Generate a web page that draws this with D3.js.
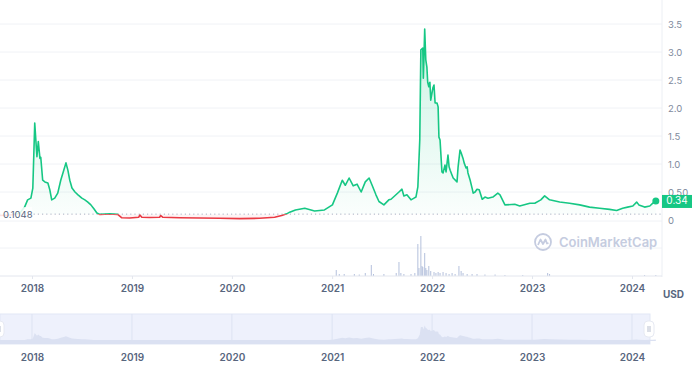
<!DOCTYPE html>
<html>
<head>
<meta charset="utf-8">
<script src="https://cdn.jsdelivr.net/npm/d3@7"></script>
<style>
  body { margin: 0; background: #fff; }
  svg { display: block; font-family: Inter, "Noto Sans", sans-serif; }
</style>
</head>
<body>
<svg id="chart" width="700" height="377"></svg>
<script>
// price history (USD)
const priceDates = ["2017-09-05","2017-10-12","2017-11-17","2017-12-05","2017-12-16","2017-12-28","2018-01-04","2018-01-11","2018-01-19","2018-01-24","2018-01-30","2018-02-02","2018-02-09","2018-02-17","2018-02-28","2018-03-07","2018-03-14","2018-03-25","2018-04-05","2018-04-16","2018-04-27","2018-05-05","2018-05-12","2018-05-19","2018-05-27","2018-06-07","2018-06-18","2018-07-02","2018-07-13","2018-07-24","2018-08-04","2018-08-15","2018-08-26","2018-09-06","2018-10-12","2018-11-10","2018-11-25","2018-12-24","2019-01-26","2019-01-30","2019-02-06","2019-03-07","2019-04-12","2019-04-16","2019-04-23","2019-06-24","2019-09-05","2019-11-17","2020-01-29","2020-04-11","2020-06-05","2020-07-01","2020-07-19","2020-07-30","2020-08-20","2020-09-23","2020-10-29","2020-12-04","2021-01-02","2021-01-20","2021-02-07","2021-02-18","2021-03-04","2021-03-19","2021-04-02","2021-04-17","2021-05-02","2021-05-16","2021-05-27","2021-06-10","2021-06-21","2021-07-09","2021-07-27","2021-08-04","2021-09-02","2021-09-13","2021-09-20","2021-10-01","2021-10-16","2021-10-27","2021-11-03","2021-11-10","2021-11-17","2021-11-21","2021-11-28","2021-11-30","2021-12-02","2021-12-05","2021-12-09","2021-12-13","2021-12-16","2021-12-20","2021-12-24","2021-12-27","2022-01-04","2022-01-08","2022-01-12","2022-01-19","2022-01-23","2022-01-26","2022-01-30","2022-02-06","2022-02-10","2022-02-17","2022-02-21","2022-02-28","2022-03-04","2022-03-08","2022-03-15","2022-03-19","2022-04-02","2022-04-06","2022-04-13","2022-04-17","2022-04-24","2022-04-28","2022-05-05","2022-05-09","2022-05-12","2022-05-20","2022-05-27","2022-05-31","2022-06-07","2022-06-14","2022-06-22","2022-07-03","2022-07-13","2022-07-24","2022-08-11","2022-08-29","2022-09-06","2022-09-24","2022-10-30","2022-11-17","2022-12-24","2023-01-11","2023-02-02","2023-02-16","2023-03-06","2023-04-12","2023-05-18","2023-06-24","2023-07-30","2023-09-05","2023-10-11","2023-11-06","2023-11-28","2023-12-16","2024-01-04","2024-01-18","2024-01-26","2024-02-16","2024-03-06","2024-03-17","2024-03-28"];
const priceValues = [0.08,0.09,0.12,0.23,0.36,0.39,0.57,1.73,1.13,1.40,1.10,1.12,0.71,0.68,0.66,0.54,0.36,0.39,0.48,0.71,0.89,1.02,0.89,0.71,0.57,0.50,0.45,0.39,0.36,0.32,0.27,0.20,0.125,0.10,0.11,0.10,0.04,0.035,0.05,0.09,0.05,0.045,0.05,0.08,0.05,0.04,0.035,0.03,0.025,0.03,0.05,0.08,0.11,0.14,0.18,0.21,0.16,0.18,0.27,0.48,0.71,0.62,0.75,0.61,0.64,0.50,0.68,0.75,0.62,0.45,0.33,0.27,0.36,0.37,0.50,0.55,0.43,0.45,0.36,0.39,0.41,0.59,1.43,3.04,3.07,2.53,2.86,3.41,2.86,2.73,2.46,2.38,2.46,2.14,2.36,2.41,2.09,2.09,2.02,1.48,1.43,0.86,0.84,0.98,0.86,1.16,0.95,0.89,0.80,0.75,0.68,0.95,1.25,1.20,1.10,1.02,0.93,0.95,0.84,0.71,0.57,0.48,0.50,0.55,0.54,0.37,0.41,0.39,0.41,0.48,0.45,0.27,0.28,0.25,0.30,0.30,0.36,0.43,0.36,0.32,0.30,0.27,0.23,0.21,0.19,0.17,0.21,0.23,0.25,0.32,0.27,0.23,0.25,0.30,0.34];

// trading volume (relative units)
const volumeDates = ["2021-01-16","2021-01-27","2021-02-14","2021-03-23","2021-04-10","2021-05-02","2021-05-24","2021-06-01","2021-07-09","2021-08-23","2021-09-02","2021-09-09","2021-09-20","2021-10-16","2021-10-30","2021-11-10","2021-11-14","2021-11-21","2021-11-25","2021-11-28","2021-12-05","2021-12-09","2021-12-13","2021-12-20","2021-12-27","2022-01-08","2022-01-15","2022-01-23","2022-01-30","2022-02-10","2022-02-21","2022-03-04","2022-03-15","2022-03-26","2022-04-09","2022-04-17","2022-04-24","2022-05-09","2022-05-27","2022-06-14","2022-07-13","2022-08-19","2022-09-24","2022-11-28","2023-02-27","2023-03-06","2024-02-16","2024-03-28"];
const volumeValues = [6,2,2,2,1.5,3,11,2,2,3,14,3,2,2,3,32,8,40,10,9,23,8,6,10,5,4,3,4,3,4,3,2,3,2,10,5,3,2,2,2,1.5,1.5,1,1,3,2,1,1];

const priceTicks = [0, 0.5, 1, 1.5, 2, 2.5, 3, 3.5];
const yearTicks = ["2018","2019","2020","2021","2022","2023","2024"];
const openPrice = 0.1048;
const lastPrice = 0.34;

const green = "#16c784", red = "#ea3943";
const parse = d3.timeParse("%Y-%m-%d");
const prices = priceDates.map((d, i) => ({ date: parse(d), value: priceValues[i] }));
const volumes = volumeDates.map((d, i) => ({ date: parse(d), value: volumeValues[i] }));
const years = yearTicks.map(y => parse(y + "-01-01"));

const svg = d3.select("#chart");

// scales
const x = d3.scaleTime().domain([years[0], years[6]]).range([32, 632]);
const y = d3.scaleLinear().domain([0, 3.5]).range([220, 24]);
const yVol = d3.scaleLinear().domain([0, 40]).range([276, 236]);
const yNav = d3.scaleLinear().domain([0, 3.5]).range([341, 325]);
const plotRight = 662;
const baseY = y(openPrice);

// gradients + clips
const defs = svg.append("defs");
const gUp = defs.append("linearGradient").attr("id", "gUp").attr("x1", 0).attr("x2", 0).attr("y1", 0).attr("y2", 1)
  .attr("gradientUnits", "userSpaceOnUse").attr("y1", y(3.4)).attr("y2", baseY);
gUp.append("stop").attr("offset", 0).attr("stop-color", green).attr("stop-opacity", 0.22);
gUp.append("stop").attr("offset", 1).attr("stop-color", green).attr("stop-opacity", 0.02);
defs.append("clipPath").attr("id", "clipUp").append("rect")
  .attr("x", 0).attr("y", 0).attr("width", plotRight).attr("height", baseY);
defs.append("clipPath").attr("id", "clipDown").append("rect")
  .attr("x", 0).attr("y", baseY).attr("width", plotRight).attr("height", 60);

// horizontal grid
svg.append("g").selectAll("line")
  .data(priceTicks.filter(d => d > 0))
  .join("line")
  .attr("x1", 0).attr("x2", plotRight)
  .attr("y1", d => y(d)).attr("y2", d => y(d))
  .attr("stroke", "#f0f2f6");
svg.append("line").attr("x1", 0).attr("x2", plotRight).attr("y1", 221).attr("y2", 221).attr("stroke", "#f0f2f6");
svg.append("line").attr("x1", 0).attr("x2", plotRight).attr("y1", 248).attr("y2", 248).attr("stroke", "#f0f2f6");

// right axis line
svg.append("line").attr("x1", plotRight).attr("x2", plotRight).attr("y1", 0).attr("y2", 277).attr("stroke", "#eceff4");

// watermark
const wm = svg.append("g").attr("transform", "translate(543,242)");
wm.append("circle").attr("r", 8).attr("fill", "none").attr("stroke", "#c5cce0").attr("stroke-width", 1.8);
wm.append("path").attr("d", "M-5,3 L-2.5,-2.5 L0,2 L2.5,-2.5 L4,1.5 L5.5,1")
  .attr("fill", "none").attr("stroke", "#c5cce0").attr("stroke-width", 1.8).attr("stroke-linejoin", "round");
svg.append("text").attr("x", 559).attr("y", 247).text("CoinMarketCap")
  .attr("font-size", 13).attr("font-weight", 600).attr("fill", "#c5cce0");

// volume bars
svg.append("g").selectAll("rect")
  .data(volumes)
  .join("rect")
  .attr("x", d => x(d.date) - 0.5)
  .attr("width", 1)
  .attr("y", d => yVol(d.value))
  .attr("height", d => 276 - yVol(d.value))
  .attr("fill", "#b4c0dc");

// areas
const area = d3.area().x(d => x(d.date)).y0(baseY).y1(d => y(d.value));
const line = d3.line().x(d => x(d.date)).y(d => y(d.value));
svg.append("path").datum(prices).attr("d", area).attr("fill", "url(#gUp)").attr("clip-path", "url(#clipUp)");
svg.append("path").datum(prices).attr("d", area).attr("fill", red).attr("fill-opacity", 0.06).attr("clip-path", "url(#clipDown)");

// baseline dotted
svg.append("line").attr("x1", 0).attr("x2", plotRight).attr("y1", baseY).attr("y2", baseY)
  .attr("stroke", "#a7b1c2").attr("stroke-dasharray", "1.2,3");

// price line
svg.append("path").datum(prices).attr("d", line).attr("fill", "none").attr("stroke", green)
  .attr("stroke-width", 1.6).attr("stroke-linejoin", "round").attr("clip-path", "url(#clipUp)");
svg.append("path").datum(prices).attr("d", line).attr("fill", "none").attr("stroke", red)
  .attr("stroke-width", 1.6).attr("stroke-linejoin", "round").attr("clip-path", "url(#clipDown)");

// open price label
svg.append("rect").attr("x", 0).attr("y", baseY - 7).attr("width", 32).attr("height", 13).attr("fill", "#fff").attr("fill-opacity", 0.85);
svg.append("text").attr("x", 3).attr("y", baseY + 3.5).text(openPrice.toString())
  .attr("font-size", 9.5).attr("fill", "#58667e");

// last point marker
const last = prices[prices.length - 1];
svg.append("circle").attr("cx", x(last.date)).attr("cy", y(last.value)).attr("r", 3.5).attr("fill", green);

// right axis
const yAxis = svg.append("g").attr("transform", `translate(${plotRight},0)`)
  .call(d3.axisRight(y).tickValues(priceTicks).tickSize(0).tickPadding(6)
    .tickFormat(d => d === 0 ? "0" : d === 0.5 ? "0.50" : d3.format(".1f")(d)));
yAxis.select(".domain").remove();
yAxis.selectAll("text").attr("font-family", "Inter, sans-serif").attr("font-size", 9.5).attr("fill", "#808a9d");

// last price tag
svg.append("rect").attr("x", plotRight).attr("y", y(lastPrice) - 6).attr("width", 30).attr("height", 13).attr("fill", green);
svg.append("text").attr("x", plotRight + 15).attr("y", y(lastPrice) + 3.5).attr("text-anchor", "middle")
  .text(lastPrice.toFixed(2)).attr("font-size", 10).attr("fill", "#fff");

// bottom axis
const xAxis = svg.append("g").attr("transform", "translate(0,276)")
  .call(d3.axisBottom(x).tickValues(years).tickFormat(d3.timeFormat("%Y")).tickSize(3).tickPadding(6));
xAxis.select(".domain").attr("d", `M0,0H${plotRight}`).attr("stroke", "#e3e6ee");
xAxis.selectAll(".tick line").attr("stroke", "#e3e6ee");
xAxis.selectAll("text").attr("font-family", "Inter, sans-serif").attr("font-size", 10).attr("font-weight", 600).attr("fill", "#58667e");

svg.append("text").attr("x", 663).attr("y", 298).text("USD")
  .attr("font-size", 10).attr("font-weight", 700).attr("fill", "#58667e");

// navigator
const nav = svg.append("g");
nav.append("rect").attr("x", 0).attr("y", 314).attr("width", 650).attr("height", 30).attr("fill", "#eef1fc").attr("stroke", "#e2e7f5");
nav.append("g").selectAll("line").data(years).join("line")
  .attr("x1", d => x(d)).attr("x2", d => x(d)).attr("y1", 314).attr("y2", 344).attr("stroke", "#dde3f2");
const navArea = d3.area().x(d => x(d.date)).y0(341).y1(d => yNav(d.value));
nav.append("path").datum(prices).attr("d", navArea).attr("fill", "#dbe1f2");
nav.append("rect").attr("x", 0).attr("y", 340).attr("width", 650).attr("height", 4).attr("fill", "#dbe1f2");
const navAxis = nav.append("g").attr("transform", "translate(0,344)")
  .call(d3.axisBottom(x).tickValues(years).tickFormat(d3.timeFormat("%Y")).tickSize(0).tickPadding(10));
navAxis.select(".domain").remove();
navAxis.selectAll("text").attr("font-family", "Inter, sans-serif").attr("font-size", 10).attr("font-weight", 600).attr("fill", "#58667e");

// navigator handles
[[-6, 321], [644, 321]].forEach(([hx, hy]) => {
  nav.append("rect").attr("x", hx).attr("y", hy).attr("width", 10).attr("height", 16).attr("rx", 4)
    .attr("fill", "#fff").attr("stroke", "#e6e9f2");
  nav.append("line").attr("x1", hx + 4).attr("x2", hx + 4).attr("y1", hy + 5).attr("y2", hy + 11).attr("stroke", "#b8bfcf");
  nav.append("line").attr("x1", hx + 6).attr("x2", hx + 6).attr("y1", hy + 5).attr("y2", hy + 11).attr("stroke", "#b8bfcf");
});
</script>
</body>
</html>
